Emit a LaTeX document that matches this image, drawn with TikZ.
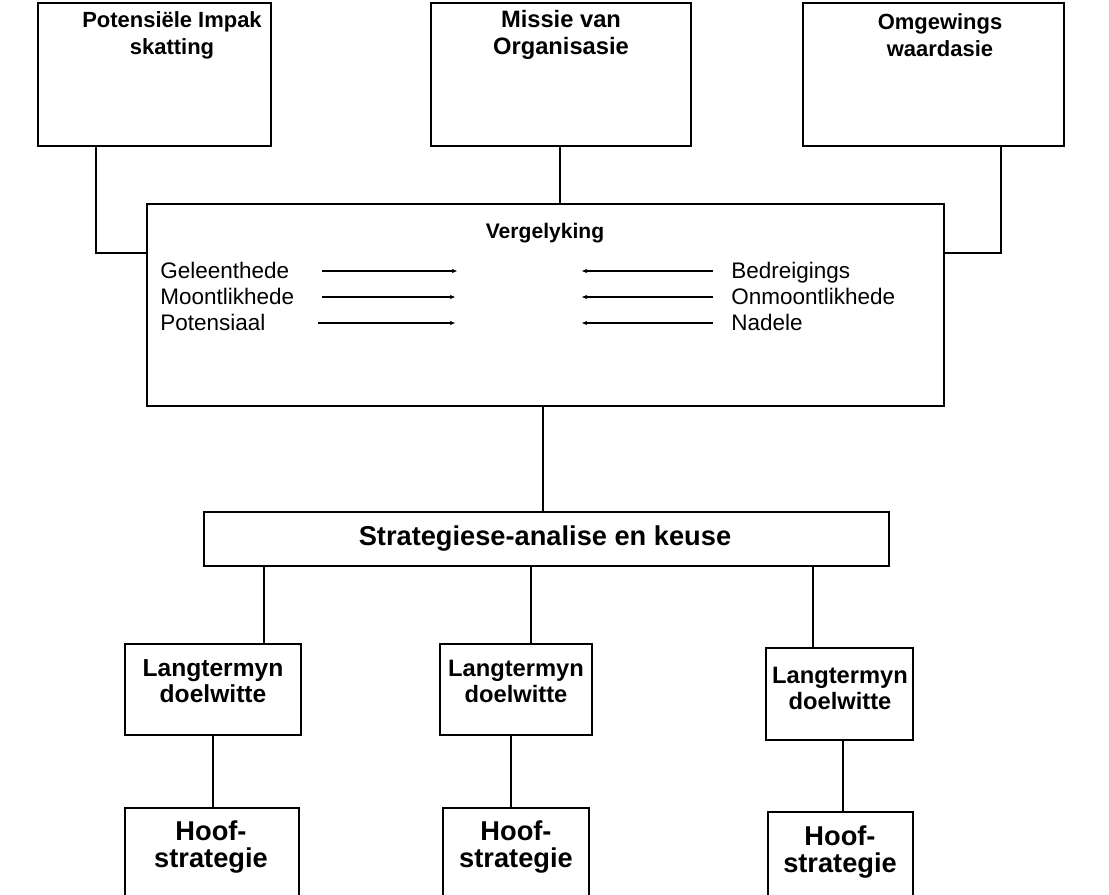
\documentclass[tikz,border=0pt]{standalone}
\usepackage{fontspec}
\setmainfont{Liberation Sans}
\usetikzlibrary{arrows.meta,fit}
\begin{document}
\begin{tikzpicture}[x=0.02cm,y=-0.02cm,
  box/.style={draw, line width=1.2pt, inner sep=0pt, outer sep=0pt},
  title/.style={font=\fontsize{12}{15.5}\selectfont\bfseries, align=center, inner sep=0pt},
  goaltitle/.style={font=\fontsize{14}{14.8}\selectfont\bfseries, align=center, inner sep=0pt},
  maintitle/.style={font=\fontsize{15.5}{14.8}\selectfont\bfseries, align=center, inner sep=0pt},
  item/.style={font=\fontsize{12.8}{14}\selectfont, inner sep=0pt, anchor=base west},
  link/.style={line width=1.2pt},
  flow/.style={line width=0.6pt, -{Stealth[length=3pt,width=2.4pt]}}]
\useasboundingbox (0,0) rectangle (1109,894);
\clip (0,0) rectangle (1109,894);

% top row
\node[box, fit={(38,3) (271,146)}] (imp) {};
\node[box, fit={(431,3) (691,146)}] (mis) {};
\node[box, fit={(803,3) (1064,146)}] (omg) {};
\node[title, font=\fontsize{12.5}{15.5}\selectfont\bfseries] (timp) at (172,35) {Potensiële Impak\\skatting};
\node[title, font=\fontsize{13.5}{15.5}\selectfont\bfseries] (tmis) at (561,35) {Missie van\\Organisasie};
\node[title, font=\fontsize{12.5}{15.5}\selectfont\bfseries] (tomg) at (940,35) {Omgewings\\waardasie};

% comparison box
\node[box, fit={(147,204) (944,406)}] (verg) {};
\node[title] (tverg) at (545,233) {Vergelyking};
\node[item] (g1) at (160,278) {Geleenthede};
\node[item] (g2) at (160,304) {Moontlikhede};
\node[item] (g3) at (160,330) {Potensiaal};
\node[item] (r1) at (731,278) {Bedreigings};
\node[item] (r2) at (731,304) {Onmoontlikhede};
\node[item] (r3) at (731,330) {Nadele};
\coordinate (ls1) at (322,271); \coordinate (le1) at (457,271);
\coordinate (ls2) at (322,297); \coordinate (le2) at (455,297);
\coordinate (ls3) at (318,323); \coordinate (le3) at (455,323);
\coordinate (rs1) at (713,271); \coordinate (re1) at (582,271);
\coordinate (rs2) at (713,297); \coordinate (re2) at (582,297);
\coordinate (rs3) at (713,323); \coordinate (re3) at (582,323);
\foreach \i in {1,2,3} {
  \draw[flow] (ls\i) -- (le\i);
  \draw[flow] (rs\i) -- (re\i);
}

% strategy selection
\node[box, fit={(204,512) (889,566)}] (strat) {};
\node[title, font=\fontsize{15.5}{15}\selectfont\bfseries] (tstrat) at (545,539) {Strategiese-analise en keuse};

% long-term goals
\node[box, fit={(125,644) (301,735)}] (la) {};
\node[box, fit={(440,644) (592,735)}] (lb) {};
\node[box, fit={(766,648) (913,740)}] (lc) {};
\node[goaltitle] (tla) at (213,681) {Langtermyn\\doelwitte};
\node[goaltitle, font=\fontsize{13.5}{14.8}\selectfont\bfseries] (tlb) at (516,681) {Langtermyn\\doelwitte};
\node[goaltitle, font=\fontsize{13.5}{14.8}\selectfont\bfseries] (tlc) at (840,688) {Langtermyn\\doelwitte};

% main strategies (boxes run past the lower edge)
\node[box, fit={(125,808) (299,910)}] (ha) {};
\node[box, fit={(443,808) (589,910)}] (hb) {};
\node[box, fit={(768,812) (913,910)}] (hc) {};
\node[maintitle] (tha) at (211,847) {Hoof-\\strategie};
\node[maintitle] (thb) at (516,847) {Hoof-\\strategie};
\node[maintitle] (thc) at (840,852) {Hoof-\\strategie};

% connectors
\draw[link] (imp.south -| 96,0) |- (verg.west |- 0,253);
\draw[link] (mis.south -| 560,0) -- (verg.north -| 560,0);
\draw[link] (omg.south -| 1001,0) |- (verg.east |- 0,253);
\draw[link] (verg.south -| 543,0) -- (strat.north -| 543,0);
\draw[link] (strat.south -| 264,0) -- (la.north -| 264,0);
\draw[link] (strat.south -| 531,0) -- (lb.north -| 531,0);
\draw[link] (strat.south -| 813,0) -- (lc.north -| 813,0);
\draw[link] (la.south -| 213,0) -- (ha.north -| 213,0);
\draw[link] (lb.south -| 511,0) -- (hb.north -| 511,0);
\draw[link] (lc.south -| 843,0) -- (hc.north -| 843,0);
\end{tikzpicture}
\end{document}
